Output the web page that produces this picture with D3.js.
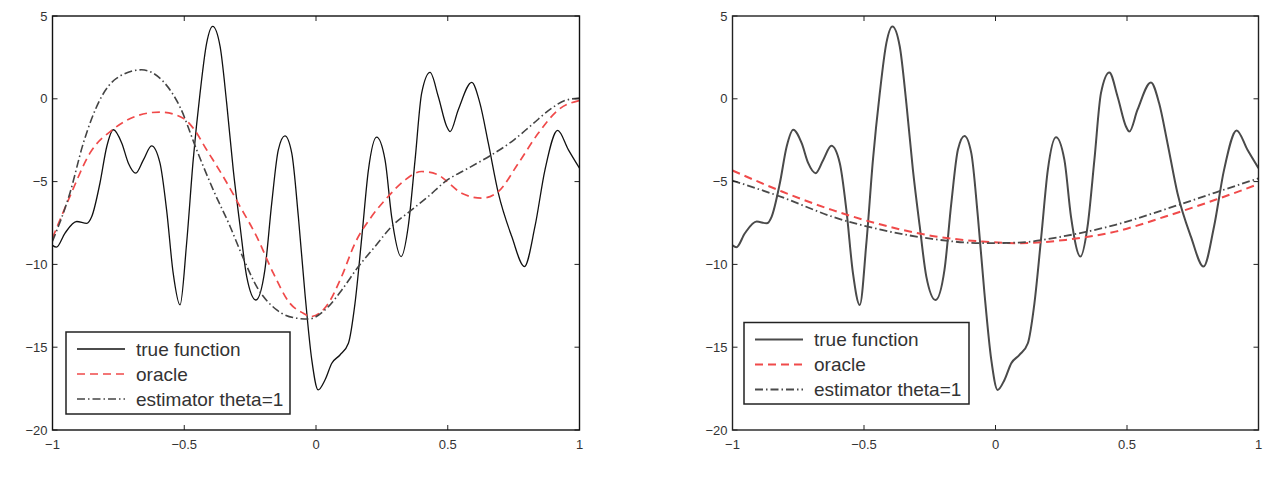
<!DOCTYPE html>
<html>
<head>
<meta charset="utf-8">
<script src="https://cdn.jsdelivr.net/npm/d3@7"></script>
<style>
	body { margin: 0; background: #fff; }
	svg { display: block; font-family: "Liberation Sans", Arial, sans-serif; }
</style>
</head>
<body>
<svg id="chart" width="1269" height="478"></svg>
<script>
// true function (same curve in both panels)
var trueX = [-1.0, -0.985, -0.953, -0.908, -0.870, -0.851, -0.820, -0.794, -0.769, -0.737, -0.712, -0.684, -0.655, -0.624, -0.592, -0.567, -0.542, -0.516,
	-0.491, -0.466, -0.440, -0.415, -0.392, -0.364, -0.339, -0.314, -0.288, -0.263, -0.228, -0.194, -0.168, -0.143, -0.118, -0.092, -0.067, -0.042, -0.016,
	0.008, 0.034, 0.060, 0.091, 0.123, 0.148, 0.174, 0.199, 0.230, 0.262, 0.287, 0.323, 0.350, 0.376, 0.401, 0.433, 0.464, 0.496, 0.509, 0.540, 0.591,
	0.622, 0.654, 0.692, 0.743, 0.791, 0.831, 0.869, 0.917, 0.958, 1.0];
var trueY = [-8.85, -8.96, -8.12, -7.41, -7.52, -7.11, -5.10, -2.88, -1.87, -2.68, -3.89, -4.49, -3.69, -2.84, -3.89, -6.71, -10.53, -12.45,
	-8.72, -3.69, 0.34, 3.36, 4.37, 3.16, -0.26, -4.29, -7.71, -10.74, -12.15, -10.33, -6.30, -3.08, -2.24, -3.28, -7.11, -11.74, -15.77,
	-17.58, -16.98, -15.97, -15.47, -14.76, -12.35, -8.32, -4.29, -2.32, -3.69, -7.11, -9.53, -7.71, -3.69, 0.34, 1.59, 0.14, -1.67, -1.98, -0.66, 0.99,
	-0.26, -2.68, -5.70, -8.32, -10.13, -7.71, -4.29, -1.91, -3.08, -4.19];

// left panel
var oracleLeftX = [-1.0, -0.934, -0.858, -0.769, -0.680, -0.592, -0.504, -0.466, -0.415, -0.352, -0.288, -0.225, -0.162, -0.099, -0.048, -0.020,
	0.047, 0.097, 0.148, 0.211, 0.274, 0.338, 0.401, 0.464, 0.490, 0.553, 0.629, 0.692, 0.768, 0.844, 0.920, 1.0];
var oracleLeftY = [-8.40, -5.90, -3.28, -1.83, -1.03, -0.80, -1.17, -1.77, -3.08, -4.70, -6.51, -8.32, -10.53, -12.35, -12.95, -13.15,
	-12.35, -10.74, -8.72, -7.11, -5.90, -4.90, -4.39, -4.59, -4.90, -5.70, -6.00, -5.60, -3.89, -2.07, -0.66, -0.10];
var estLeftX = [-1.0, -0.934, -0.883, -0.820, -0.756, -0.662, -0.580, -0.516, -0.453, -0.390, -0.326, -0.276, -0.225, -0.149, -0.073, -0.030,
	0.047, 0.098, 0.161, 0.224, 0.287, 0.363, 0.426, 0.490, 0.578, 0.667, 0.743, 0.819, 0.895, 0.945, 1.0];
var estLeftY = [-8.60, -5.70, -2.68, -0.06, 1.25, 1.75, 1.05, -0.50, -3.08, -5.50, -7.71, -9.63, -11.34, -12.75, -13.25, -13.30,
	-12.55, -11.54, -10.13, -8.92, -7.71, -6.71, -5.90, -5.00, -4.19, -3.38, -2.58, -1.57, -0.56, -0.10, 0.04];

// right panel
var oracleRightX = [-1.0, -0.812, -0.622, -0.432, -0.241, -0.051, 0.088, 0.266, 0.456, 0.646, 0.836, 1.0];
var oracleRightY = [-4.33, -5.60, -6.71, -7.61, -8.28, -8.62, -8.72, -8.52, -8.02, -7.11, -6.10, -5.15];
var estRightX = [-1.0, -0.812, -0.622, -0.432, -0.241, -0.051, 0.088, 0.266, 0.456, 0.646, 0.836, 1.0];
var estRightY = [-4.94, -5.94, -7.11, -7.92, -8.46, -8.72, -8.68, -8.28, -7.61, -6.67, -5.66, -4.80];

var xTicks = [-1, -0.5, 0, 0.5, 1];
var xTickLabels = ["\u22121", "\u22120.5", "0", "0.5", "1"];
var yTicks = [-20, -15, -10, -5, 0, 5];
var yTickLabels = ["\u221220", "\u221215", "\u221210", "\u22125", "0", "5"];
var legendLabels = ["true function", "oracle", "estimator theta=1"];

var svg = d3.select("#chart");

function zip(xs, ys){
	return xs.map(function(x, i){ return [x, ys[i]]; });
}

function drawPanel(id, box, series, legendBox, style){
	var x = d3.scaleLinear().domain([-1, 1]).range([box.left, box.right]);
	var y = d3.scaleLinear().domain([-20, 5]).range([box.bottom, box.top]);
	var g = svg.append("g").attr("id", id);

	g.append("clipPath").attr("id", id + "-clip")
		.append("rect")
		.attr("x", box.left).attr("y", box.top)
		.attr("width", box.right - box.left).attr("height", box.bottom - box.top);

	var line = d3.line()
		.x(function(d){ return x(d[0]); })
		.y(function(d){ return y(d[1]); })
		.curve(d3.curveMonotoneX);

	var plot = g.append("g").attr("clip-path", "url(#" + id + "-clip)");
	series.forEach(function(s){
		plot.append("path")
			.attr("d", line(s.data))
			.attr("fill", "none")
			.attr("stroke", s.color)
			.attr("stroke-width", s.width)
			.attr("stroke-dasharray", s.dash);
	});

	// ticks inside, on all four sides
	var tickLen = 5;
	var ticks = g.append("g").attr("stroke", "#222").attr("stroke-width", 1);
	xTicks.forEach(function(t){
		ticks.append("line").attr("x1", x(t)).attr("x2", x(t)).attr("y1", box.bottom).attr("y2", box.bottom - tickLen);
		ticks.append("line").attr("x1", x(t)).attr("x2", x(t)).attr("y1", box.top).attr("y2", box.top + tickLen);
	});
	yTicks.forEach(function(t){
		ticks.append("line").attr("x1", box.left).attr("x2", box.left + tickLen).attr("y1", y(t)).attr("y2", y(t));
		ticks.append("line").attr("x1", box.right).attr("x2", box.right - tickLen).attr("y1", y(t)).attr("y2", y(t));
	});

	g.append("g").selectAll("text")
		.data(xTicks)
		.enter()
		.append("text")
		.attr("x", function(d){ return x(d); })
		.attr("y", box.bottom + 19)
		.attr("text-anchor", "middle")
		.attr("font-size", 13)
		.attr("fill", "#333")
		.text(function(d, i){ return xTickLabels[i]; });

	g.append("g").selectAll("text")
		.data(yTicks)
		.enter()
		.append("text")
		.attr("x", box.left - 5)
		.attr("y", function(d){ return y(d); })
		.attr("dy", "0.36em")
		.attr("text-anchor", "end")
		.attr("font-size", 13)
		.attr("fill", "#333")
		.text(function(d, i){ return yTickLabels[i]; });

	g.append("rect")
		.attr("x", box.left).attr("y", box.top)
		.attr("width", box.right - box.left).attr("height", box.bottom - box.top)
		.attr("fill", "none")
		.attr("stroke", style.frame)
		.attr("stroke-width", 1.4);

	// legend
	var lg = g.append("g");
	lg.append("rect")
		.attr("x", legendBox.x).attr("y", legendBox.y)
		.attr("width", legendBox.w).attr("height", legendBox.h)
		.attr("fill", "#fff")
		.attr("stroke", "#222")
		.attr("stroke-width", 1.5);
	series.forEach(function(s, i){
		var cy = legendBox.y + 17 + i * 25;
		lg.append("line")
			.attr("x1", legendBox.x + 11).attr("x2", legendBox.x + 59)
			.attr("y1", cy).attr("y2", cy)
			.attr("stroke", s.color)
			.attr("stroke-width", s.width)
			.attr("stroke-dasharray", s.dash);
		lg.append("text")
			.attr("x", legendBox.x + 70)
			.attr("y", cy)
			.attr("dy", "0.35em")
			.attr("font-size", 19)
			.attr("fill", "#333")
			.text(legendLabels[i]);
	});
}

drawPanel("left",
	{left: 52.5, right: 579.5, top: 16, bottom: 430},
	[
		{data: zip(trueX, trueY), color: "#111", width: 1.3, dash: null},
		{data: zip(oracleLeftX, oracleLeftY), color: "#f04a4a", width: 1.7, dash: "8,5"},
		{data: zip(estLeftX, estLeftY), color: "#444", width: 1.6, dash: "8,3,1.5,3"}
	],
	{x: 66, y: 332, w: 224, h: 82},
	{frame: "#111"});

drawPanel("right",
	{left: 732.5, right: 1258.5, top: 16, bottom: 430},
	[
		{data: zip(trueX, trueY), color: "#4a4a4a", width: 2, dash: null},
		{data: zip(oracleRightX, oracleRightY), color: "#f04a4a", width: 2, dash: "8,5"},
		{data: zip(estRightX, estRightY), color: "#4a4a4a", width: 1.8, dash: "8,3,1.5,3"}
	],
	{x: 744, y: 322.5, w: 225, h: 81.5},
	{frame: "#222"});
</script>
</body>
</html>
